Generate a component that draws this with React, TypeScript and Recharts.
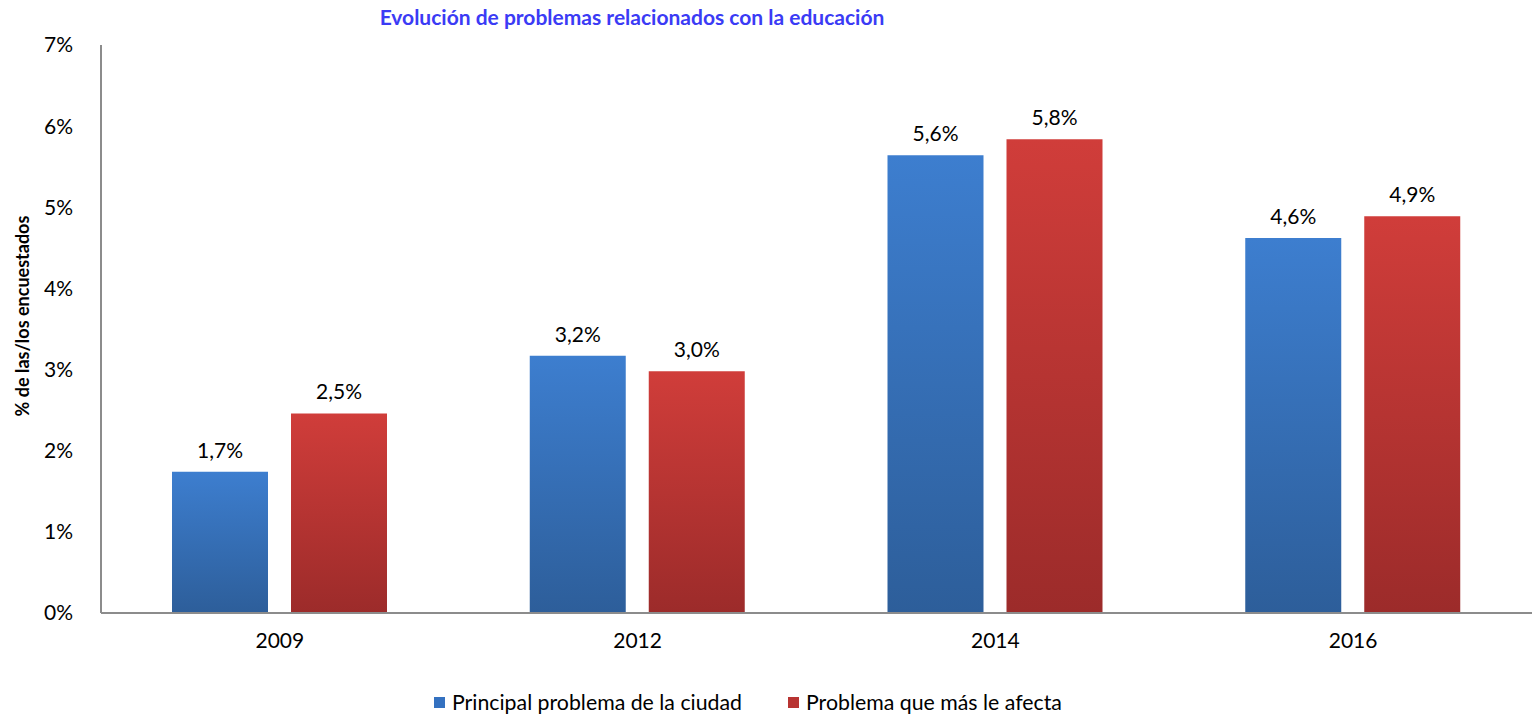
import React from "react";
import { BarChart, Bar, XAxis, YAxis, LabelList } from "recharts";

const categories = ["2009", "2012", "2014", "2016"];
const principalValues = [1.74, 3.17, 5.64, 4.62];
const afectaValues = [2.46, 2.98, 5.84, 4.89];
const seriesNames = ["Principal problema de la ciudad", "Problema que más le afecta"];
const yTicks = [0, 1, 2, 3, 4, 5, 6, 7];
const titleText = "Evolución de problemas relacionados con la educación";
const yLabelText = "% de las/los encuestados";

const data = categories.map((c, i) => ({
  year: c,
  principal: principalValues[i],
  afecta: afectaValues[i],
}));

const FONT = "Lato, 'Open Sans', sans-serif";
const fmt = (v: any) => Number(v).toFixed(1).replace(".", ",") + "%";

export default function App() {
  return (
    <div style={{ position: "absolute", left: 0, top: 0, width: 1532, height: 714, background: "#fff", fontFamily: FONT }}>
      <BarChart
        width={1532}
        height={714}
        data={data}
        margin={{ top: 45, right: 0, bottom: 0, left: 0 }}
        barGap={23}
        barCategoryGap={71}
      >
        <defs>
          <linearGradient id="gBlue" x1="0" y1="0" x2="0" y2="1">
            <stop offset="0%" stopColor="#3D7ECF" />
            <stop offset="100%" stopColor="#2D5E9A" />
          </linearGradient>
          <linearGradient id="gRed" x1="0" y1="0" x2="0" y2="1">
            <stop offset="0%" stopColor="#D03D3A" />
            <stop offset="100%" stopColor="#9C2B2A" />
          </linearGradient>
        </defs>
        <XAxis
          dataKey="year"
          height={101}
          axisLine={{ stroke: "#8c8c8c", strokeWidth: 2 }}
          tickLine={false}
          tick={{ fill: "#000", fontSize: 21, fontFamily: FONT }}
          tickMargin={14}
        />
        <YAxis
          width={101}
          domain={[0, 7]}
          ticks={yTicks}
          interval={0}
          axisLine={{ stroke: "#8c8c8c", strokeWidth: 2 }}
          tickLine={false}
          tickFormatter={(v: number) => `${v}%`}
          tick={{ fill: "#000", fontSize: 21, fontFamily: FONT }}
          tickMargin={22}
        />
        <Bar dataKey="principal" name={seriesNames[0]} fill="url(#gBlue)" isAnimationActive={false}>
          <LabelList dataKey="principal" position="top" offset={14} formatter={fmt} style={{ fill: "#000", fontSize: 21, fontFamily: FONT }} />
        </Bar>
        <Bar dataKey="afecta" name={seriesNames[1]} fill="url(#gRed)" isAnimationActive={false}>
          <LabelList dataKey="afecta" position="top" offset={14} formatter={fmt} style={{ fill: "#000", fontSize: 21, fontFamily: FONT }} />
        </Bar>
        <text x={632} y={25} textAnchor="middle" fill="#3B3BF5" fontWeight={700} fontSize={21} fontFamily={FONT}>
          {titleText}
        </text>
        <text
          x={29}
          y={316}
          textAnchor="middle"
          fill="#000"
          fontWeight={700}
          fontSize={18}
          fontFamily={FONT}
          transform="rotate(-90 29 316)"
        >
          {yLabelText}
        </text>
      </BarChart>
      <div
        style={{
          position: "absolute",
          top: 689,
          left: 434,
          display: "flex",
          alignItems: "center",
          fontSize: 21.3,
          fontFamily: FONT,
          color: "#000",
          whiteSpace: "nowrap",
        }}
      >
        <div style={{ display: "flex", alignItems: "center", marginRight: 46 }}>
          <span style={{ display: "inline-block", width: 11, height: 11, background: "#3471C0", marginRight: 7 }} />
          <span>{seriesNames[0]}</span>
        </div>
        <div style={{ display: "flex", alignItems: "center" }}>
          <span style={{ display: "inline-block", width: 11, height: 11, background: "#B83432", marginRight: 7 }} />
          <span>{seriesNames[1]}</span>
        </div>
      </div>
    </div>
  );
}
